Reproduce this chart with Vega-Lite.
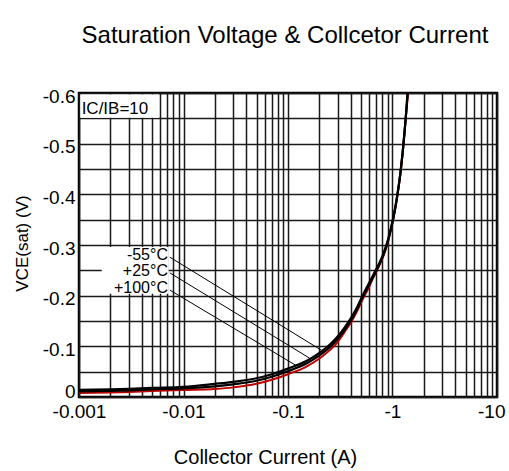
{
  "$schema": "https://vega.github.io/schema/vega-lite/v6.json",
  "width": 418,
  "height": 304,
  "autosize": {"type": "none"},
  "padding": {"left": 79, "top": 93, "right": 12, "bottom": 74},
  "background": "white",
  "title": {
    "text": "Saturation Voltage & Collcetor Current",
    "font": "Liberation Sans",
    "fontSize": 24,
    "fontWeight": "normal",
    "color": "black",
    "anchor": "middle",
    "frame": "group",
    "baseline": "alphabetic",
    "offset": 20,
    "dx": -3
  },
  "config": {
    "font": "Liberation Sans",
    "view": {"stroke": "black", "strokeWidth": 2.5}
  },
  "datasets": {
    "curves": [
      {"I": 0.001, "V": -0.014, "temp": "-55°C"},
      {"I": 0.002, "V": -0.015, "temp": "-55°C"},
      {"I": 0.003, "V": -0.016, "temp": "-55°C"},
      {"I": 0.005, "V": -0.018, "temp": "-55°C"},
      {"I": 0.01, "V": -0.020, "temp": "-55°C"},
      {"I": 0.02, "V": -0.026, "temp": "-55°C"},
      {"I": 0.03, "V": -0.030, "temp": "-55°C"},
      {"I": 0.05, "V": -0.037, "temp": "-55°C"},
      {"I": 0.07, "V": -0.045, "temp": "-55°C"},
      {"I": 0.1, "V": -0.056, "temp": "-55°C"},
      {"I": 0.15, "V": -0.071, "temp": "-55°C"},
      {"I": 0.2, "V": -0.087, "temp": "-55°C"},
      {"I": 0.25, "V": -0.103, "temp": "-55°C"},
      {"I": 0.3, "V": -0.120, "temp": "-55°C"},
      {"I": 0.35, "V": -0.138, "temp": "-55°C"},
      {"I": 0.4, "V": -0.156, "temp": "-55°C"},
      {"I": 0.45, "V": -0.174, "temp": "-55°C"},
      {"I": 0.5, "V": -0.194, "temp": "-55°C"},
      {"I": 0.55, "V": -0.211, "temp": "-55°C"},
      {"I": 0.6, "V": -0.226, "temp": "-55°C"},
      {"I": 0.65, "V": -0.240, "temp": "-55°C"},
      {"I": 0.7, "V": -0.253, "temp": "-55°C"},
      {"I": 0.75, "V": -0.265, "temp": "-55°C"},
      {"I": 0.8, "V": -0.278, "temp": "-55°C"},
      {"I": 0.85, "V": -0.293, "temp": "-55°C"},
      {"I": 0.9, "V": -0.309, "temp": "-55°C"},
      {"I": 0.95, "V": -0.327, "temp": "-55°C"},
      {"I": 1.0, "V": -0.347, "temp": "-55°C"},
      {"I": 1.05, "V": -0.369, "temp": "-55°C"},
      {"I": 1.1, "V": -0.393, "temp": "-55°C"},
      {"I": 1.15, "V": -0.419, "temp": "-55°C"},
      {"I": 1.2, "V": -0.449, "temp": "-55°C"},
      {"I": 1.25, "V": -0.483, "temp": "-55°C"},
      {"I": 1.3, "V": -0.521, "temp": "-55°C"},
      {"I": 1.35, "V": -0.561, "temp": "-55°C"},
      {"I": 1.39, "V": -0.6, "temp": "-55°C"},
      {"I": 0.001, "V": -0.011, "temp": "+25°C"},
      {"I": 0.002, "V": -0.012, "temp": "+25°C"},
      {"I": 0.003, "V": -0.013, "temp": "+25°C"},
      {"I": 0.005, "V": -0.015, "temp": "+25°C"},
      {"I": 0.01, "V": -0.017, "temp": "+25°C"},
      {"I": 0.02, "V": -0.021, "temp": "+25°C"},
      {"I": 0.03, "V": -0.025, "temp": "+25°C"},
      {"I": 0.05, "V": -0.032, "temp": "+25°C"},
      {"I": 0.07, "V": -0.040, "temp": "+25°C"},
      {"I": 0.1, "V": -0.051, "temp": "+25°C"},
      {"I": 0.15, "V": -0.066, "temp": "+25°C"},
      {"I": 0.2, "V": -0.082, "temp": "+25°C"},
      {"I": 0.25, "V": -0.098, "temp": "+25°C"},
      {"I": 0.3, "V": -0.115, "temp": "+25°C"},
      {"I": 0.35, "V": -0.133, "temp": "+25°C"},
      {"I": 0.4, "V": -0.151, "temp": "+25°C"},
      {"I": 0.45, "V": -0.170, "temp": "+25°C"},
      {"I": 0.5, "V": -0.190, "temp": "+25°C"},
      {"I": 0.55, "V": -0.207, "temp": "+25°C"},
      {"I": 0.6, "V": -0.222, "temp": "+25°C"},
      {"I": 0.65, "V": -0.236, "temp": "+25°C"},
      {"I": 0.7, "V": -0.249, "temp": "+25°C"},
      {"I": 0.75, "V": -0.262, "temp": "+25°C"},
      {"I": 0.8, "V": -0.275, "temp": "+25°C"},
      {"I": 0.85, "V": -0.290, "temp": "+25°C"},
      {"I": 0.9, "V": -0.306, "temp": "+25°C"},
      {"I": 0.95, "V": -0.325, "temp": "+25°C"},
      {"I": 1.0, "V": -0.345, "temp": "+25°C"},
      {"I": 1.05, "V": -0.367, "temp": "+25°C"},
      {"I": 1.1, "V": -0.391, "temp": "+25°C"},
      {"I": 1.15, "V": -0.418, "temp": "+25°C"},
      {"I": 1.2, "V": -0.448, "temp": "+25°C"},
      {"I": 1.25, "V": -0.482, "temp": "+25°C"},
      {"I": 1.3, "V": -0.520, "temp": "+25°C"},
      {"I": 1.35, "V": -0.560, "temp": "+25°C"},
      {"I": 1.4, "V": -0.6, "temp": "+25°C"},
      {"I": 0.001, "V": -0.008, "temp": "+100°C"},
      {"I": 0.002, "V": -0.009, "temp": "+100°C"},
      {"I": 0.003, "V": -0.010, "temp": "+100°C"},
      {"I": 0.005, "V": -0.012, "temp": "+100°C"},
      {"I": 0.01, "V": -0.014, "temp": "+100°C"},
      {"I": 0.02, "V": -0.016, "temp": "+100°C"},
      {"I": 0.03, "V": -0.019, "temp": "+100°C"},
      {"I": 0.05, "V": -0.026, "temp": "+100°C"},
      {"I": 0.07, "V": -0.034, "temp": "+100°C"},
      {"I": 0.1, "V": -0.045, "temp": "+100°C"},
      {"I": 0.15, "V": -0.060, "temp": "+100°C"},
      {"I": 0.2, "V": -0.076, "temp": "+100°C"},
      {"I": 0.25, "V": -0.092, "temp": "+100°C"},
      {"I": 0.3, "V": -0.109, "temp": "+100°C"},
      {"I": 0.35, "V": -0.129, "temp": "+100°C"},
      {"I": 0.4, "V": -0.147, "temp": "+100°C"},
      {"I": 0.45, "V": -0.166, "temp": "+100°C"},
      {"I": 0.5, "V": -0.186, "temp": "+100°C"},
      {"I": 0.55, "V": -0.203, "temp": "+100°C"},
      {"I": 0.6, "V": -0.218, "temp": "+100°C"},
      {"I": 0.65, "V": -0.234, "temp": "+100°C"},
      {"I": 0.7, "V": -0.247, "temp": "+100°C"},
      {"I": 0.75, "V": -0.260, "temp": "+100°C"},
      {"I": 0.8, "V": -0.273, "temp": "+100°C"},
      {"I": 0.85, "V": -0.288, "temp": "+100°C"},
      {"I": 0.9, "V": -0.304, "temp": "+100°C"},
      {"I": 0.95, "V": -0.324, "temp": "+100°C"},
      {"I": 1.0, "V": -0.344, "temp": "+100°C"},
      {"I": 1.05, "V": -0.366, "temp": "+100°C"},
      {"I": 1.1, "V": -0.390, "temp": "+100°C"},
      {"I": 1.15, "V": -0.417, "temp": "+100°C"},
      {"I": 1.2, "V": -0.447, "temp": "+100°C"},
      {"I": 1.25, "V": -0.481, "temp": "+100°C"},
      {"I": 1.3, "V": -0.519, "temp": "+100°C"},
      {"I": 1.35, "V": -0.559, "temp": "+100°C"},
      {"I": 1.41, "V": -0.6, "temp": "+100°C"}
    ],
    "boxes": [
      {"I": 0.00165, "I2": 0.0072, "V": -0.296, "V2": -0.204},
      {"I": 0.00103, "I2": 0.0058, "V": -0.597, "V2": -0.551}
    ],
    "leaders": [
      {"I": 0.0074, "V": -0.276, "I2": 0.21, "V2": -0.092},
      {"I": 0.0074, "V": -0.245, "I2": 0.16, "V2": -0.077},
      {"I": 0.0074, "V": -0.211, "I2": 0.12, "V2": -0.062}
    ],
    "labels": [
      {"I": 0.0071, "V": -0.280, "label": "-55°C"},
      {"I": 0.0071, "V": -0.249, "label": "+25°C"},
      {"I": 0.0071, "V": -0.215, "label": "+100°C"}
    ],
    "note": [
      {"I": 0.00106, "V": -0.568, "label": "IC/IB=10"}
    ]
  },
  "encoding": {
    "x": {
      "field": "I",
      "type": "quantitative",
      "scale": {"type": "log", "domain": [0.001, 10], "nice": false},
      "axis": {
        "title": "Collector Current (A)",
        "values": [0.001, 0.002, 0.003, 0.004, 0.005, 0.006, 0.007, 0.008, 0.009, 0.01, 0.02, 0.03, 0.04, 0.05, 0.06, 0.07, 0.08, 0.09, 0.1, 0.2, 0.3, 0.4, 0.5, 0.6, 0.7, 0.8, 0.9, 1, 2, 3, 4, 5, 6, 7, 8, 9, 10],
        "labelExpr": "abs(log(datum.value)/LN10 - round(log(datum.value)/LN10)) < 0.001 ? '-' + format(datum.value, '~g') : ''",
        "grid": true,
        "gridColor": "#1a1a1a",
        "gridWidth": 1.5,
        "gridOpacity": 1,
        "ticks": false,
        "domain": false,
        "labelFont": "Liberation Sans",
        "labelFontSize": 19,
        "labelColor": "black",
        "labelPadding": 5,
        "labelOverlap": false,
        "labelFlush": false,
        "labelAlign": {"condition": {"test": "datum.value > 5", "value": "right"}, "value": "center"},
        "labelOffset": {"condition": {"test": "datum.value > 5", "value": 8}, "value": 0},
        "titleFont": "Liberation Sans",
        "titleFontSize": 20,
        "titleFontWeight": "normal",
        "titleColor": "black",
        "titleAlign": "center",
        "titleBaseline": "alphabetic",
        "titleX": 186,
        "titleY": 66
      }
    },
    "y": {
      "field": "V",
      "type": "quantitative",
      "scale": {"domain": [-0.6, 0], "reverse": true, "nice": false, "zero": false},
      "axis": {
        "title": "VCE(sat) (V)",
        "values": [-0.6, -0.55, -0.5, -0.45, -0.4, -0.35, -0.3, -0.25, -0.2, -0.15, -0.1, -0.05, 0],
        "labelExpr": "abs(datum.value*10 - round(datum.value*10)) > 0.01 ? '' : (abs(datum.value) < 0.001 ? '0' : '-' + format(abs(datum.value), '.1f'))",
        "grid": true,
        "gridColor": "#1a1a1a",
        "gridWidth": 1.5,
        "gridOpacity": 1,
        "ticks": false,
        "domain": false,
        "labelFont": "Liberation Sans",
        "labelFontSize": 19,
        "labelColor": "black",
        "labelPadding": 4,
        "labelOverlap": false,
        "labelFlush": false,
        "labelOffset": {"condition": {"test": "abs(datum.value) < 0.001", "value": -6}, "value": 3},
        "titleFont": "Liberation Sans",
        "titleFontSize": 17,
        "titleFontWeight": "normal",
        "titleColor": "black",
        "titleAngle": -90,
        "titleAlign": "center",
        "titleBaseline": "bottom",
        "titleX": -48,
        "titleY": 150
      }
    }
  },
  "layer": [
    {
      "data": {"name": "boxes"},
      "mark": {"type": "rect", "fill": "white", "stroke": null},
      "encoding": {"x2": {"field": "I2"}, "y2": {"field": "V2"}}
    },
    {
      "data": {"name": "curves"},
      "transform": [{"filter": "datum.temp === '+100°C'"}],
      "mark": {"type": "line", "color": "#c00000", "strokeWidth": 2, "clip": true, "interpolate": "monotone"},
      "encoding": {"detail": {"field": "temp"}}
    },
    {
      "data": {"name": "curves"},
      "transform": [{"filter": "datum.temp !== '+100°C'"}],
      "mark": {"type": "line", "color": "black", "strokeWidth": 2.2, "clip": true, "interpolate": "monotone"},
      "encoding": {"detail": {"field": "temp"}}
    },
    {
      "data": {"name": "leaders"},
      "mark": {"type": "rule", "color": "black", "strokeWidth": 1},
      "encoding": {"x2": {"field": "I2"}, "y2": {"field": "V2"}}
    },
    {
      "data": {"name": "labels"},
      "mark": {"type": "text", "align": "right", "baseline": "middle", "fontSize": 16, "font": "Liberation Sans", "color": "black"},
      "encoding": {"text": {"field": "label"}}
    },
    {
      "data": {"name": "note"},
      "mark": {"type": "text", "align": "left", "baseline": "middle", "fontSize": 17, "font": "Liberation Sans", "color": "black"},
      "encoding": {"text": {"field": "label"}}
    }
  ]
}
